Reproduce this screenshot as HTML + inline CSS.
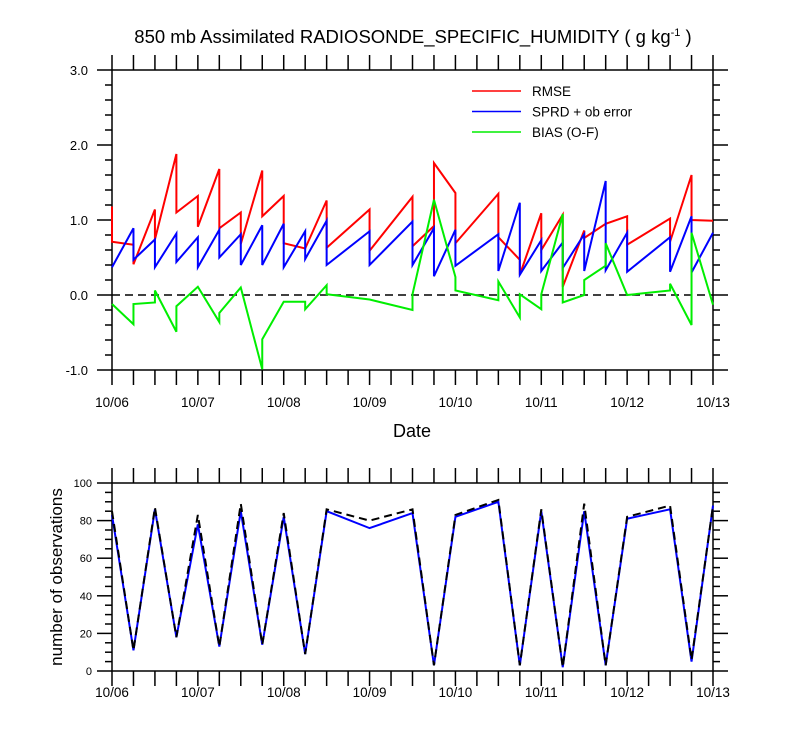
<!DOCTYPE html>
<html><head><meta charset="utf-8">
<style>
body{margin:0;background:#fff;}
svg{display:block;font-family:"Liberation Sans",sans-serif;}
</style></head>
<body>
<svg id="chart" width="800" height="750" viewBox="0 0 800 750" xmlns="http://www.w3.org/2000/svg"></svg>
<script>
// time in 6-hour steps from 10/06 00Z; duplicated times = vertical jumps
const rmseT = [0,0,1,1,2,2,3,3,4,4,5,5,6,6,7,7,8,8,9,10,10,12,12,14,14,15,15,16,16,18,18,19,19,20,20,21,21,22,22,23,24,24,26,26,27,27,28];
const rmseV = [1.18,0.71,0.67,0.41,1.14,0.74,1.88,1.10,1.32,0.91,1.68,0.89,1.10,0.68,1.66,1.05,1.32,0.69,0.62,1.26,0.63,1.14,0.59,1.31,0.65,0.92,1.76,1.36,0.69,1.35,0.77,0.47,0.27,1.09,0.60,1.07,0.11,0.86,0.76,0.95,1.05,0.67,1.02,0.71,1.60,1.00,0.99];
const sprdT = [0,1,1,2,2,3,3,4,4,5,5,6,6,7,7,8,8,9,9,10,10,12,12,14,14,15,15,16,16,18,18,19,19,20,20,21,21,22,22,23,23,24,24,26,26,27,27,28];
const sprdV = [0.37,0.89,0.47,0.74,0.37,0.82,0.44,0.77,0.37,0.87,0.50,0.81,0.40,0.93,0.40,0.95,0.37,0.85,0.48,0.99,0.40,0.85,0.40,0.98,0.40,0.89,0.25,0.87,0.39,0.81,0.32,1.23,0.27,0.73,0.32,0.70,0.36,0.81,0.32,1.52,0.33,0.83,0.31,0.77,0.31,1.05,0.30,0.83];
const biasT = [0,0,1,1,2,2,3,3,4,5,5,6,7,7,8,9,9,10,10,12,14,14,15,16,16,18,18,19,19,20,20,21,21,22,22,23,23,24,26,26,27,27,28];
const biasV = [-0.12,-0.12,-0.39,-0.12,-0.10,0.06,-0.49,-0.15,0.11,-0.36,-0.24,0.10,-0.99,-0.59,-0.09,-0.09,-0.19,0.13,0.01,-0.06,-0.20,0.01,1.27,0.24,0.06,-0.07,0.18,-0.30,0.01,-0.19,0.01,1.08,-0.10,0.00,0.20,0.39,0.69,0.00,0.06,0.15,-0.40,0.83,-0.13];
const obsT = [0,1,2,3,4,5,6,7,8,9,10,12,14,15,16,18,19,20,21,22,23,24,26,27,28];
const obsUsed = [83,11,86,18,78,13,85,14,82,9,85,76,84,3,82,90,3,85,2,85,3,81,86,5,88];
const obsTotal = [85,11,87,18,83,13,89,14,84,9,86,80,86,3,83,91,3,86,2,89,3,82,88,6,88];
const topTicks = ["3.0","2.0","1.0","0.0","-1.0"];
const topTickVals = [3,2,1,0,-1];
const botTickVals = [0,20,40,60,80,100];
const dateLabels = ["10/06","10/07","10/08","10/09","10/10","10/11","10/12","10/13"];

const NS="http://www.w3.org/2000/svg";
const svg=document.getElementById('chart');
const X0=112,X1=713;
const xs=t=>X0+(X1-X0)*t/28;
const yTop=v=>295-75*v;
const yBot=v=>671-1.88*v;
function el(tag,attrs,parent){const e=document.createElementNS(NS,tag);for(const k in attrs)e.setAttribute(k,attrs[k]);(parent||svg).appendChild(e);return e;}
function txt(s,attrs){const e=el('text',attrs);e.textContent=s;return e;}

let t=txt('',{x:413,y:43,'text-anchor':'middle','font-size':18.5});


t.innerHTML='850 mb Assimilated RADIOSONDE_SPECIFIC_HUMIDITY ( g kg<tspan dy="-7" font-size="11">-1</tspan><tspan dy="7"> )</tspan>';

function axes(yT,yB,name){
  const g=el('g',{stroke:'#000','stroke-width':1.5,fill:'none'});
  
  
  el('rect',{x:X0,y:yT,width:X1-X0,height:yB-yT},g);
  for(let i=0;i<=28;i++){const x=xs(i);
    el('line',{x1:x,y1:yB,x2:x,y2:yB+15},g);
    el('line',{x1:x,y1:yT,x2:x,y2:yT-15},g);}
  return g;
}
const ga=axes(70,370,'top-panel');
for(let v=-1;v<=3.001;v+=0.2){const y=yTop(v);const maj=Math.abs(v-Math.round(v))<0.01;const L=maj?15:7;
  el('line',{x1:X0,y1:y,x2:X0-L,y2:y},ga);el('line',{x1:X1,y1:y,x2:X1+L,y2:y},ga);}
topTickVals.forEach((v,i)=>{const e=txt(topTicks[i],{x:88,y:yTop(v)+5,'text-anchor':'end','font-size':13});
  
  });
dateLabels.forEach((d,i)=>{const e=txt(d,{x:xs(i*4),y:407,'text-anchor':'middle','font-size':13.5});
  
  });
let dt=txt('Date',{x:412,y:437,'text-anchor':'middle','font-size':18});


let zl=el('line',{x1:X0,y1:yTop(0),x2:X1,y2:yTop(0),stroke:'#000','stroke-width':1.5,'stroke-dasharray':'8,5'});


function series(T,V,yf,color,name,dash){
  const p=el('polyline',{points:T.map((tt,i)=>xs(tt)+','+yf(V[i])).join(' '),fill:'none',stroke:color,'stroke-width':2});
  if(dash)p.setAttribute('stroke-dasharray',dash);
  
  
}
series(rmseT,rmseV,yTop,'#ff0000','rmse-line');
series(sprdT,sprdV,yTop,'#0000ff','sprd-line');
series(biasT,biasV,yTop,'#00ee00','bias-line');
[['RMSE','#ff0000'],['SPRD + ob error','#0000ff'],['BIAS (O-F)','#00ee00']].forEach((l,i)=>{
  const y=91+i*20.5;
  const ln=el('line',{x1:472,y1:y,x2:521,y2:y,stroke:l[1],'stroke-width':1.5});
  
  
  const e=txt(l[0],{x:532,y:y+5,'font-size':13.5});
  
  
});
const gb=axes(483,671,'bottom-panel');
for(let v=0;v<=100;v+=5){const y=yBot(v);const L=v%20===0?15:7;
  el('line',{x1:X0,y1:y,x2:X0-L,y2:y},gb);el('line',{x1:X1,y1:y,x2:X1+L,y2:y},gb);}
botTickVals.forEach(v=>{const e=txt(String(v),{x:92,y:yBot(v)+4,'text-anchor':'end','font-size':11});
  
  });
dateLabels.forEach((d,i)=>{const e=txt(d,{x:xs(i*4),y:697,'text-anchor':'middle','font-size':13.5});
  
  });
let yt=txt('number of observations',{x:0,y:0,'text-anchor':'middle','font-size':17,transform:'translate(62,577) rotate(-90)'});


series(obsT,obsUsed,yBot,'#0000ff','obs-used-line');
series(obsT,obsTotal,yBot,'#000000','obs-total-line','8,5');
</script>
</body></html>
